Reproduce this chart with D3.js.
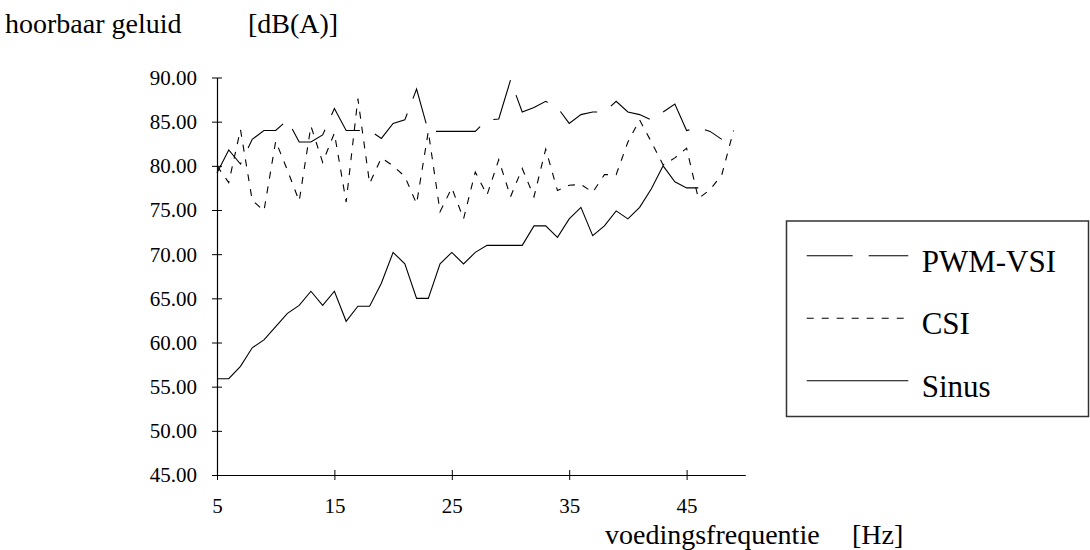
<!DOCTYPE html>
<html>
<head>
<meta charset="utf-8">
<script src="https://cdn.jsdelivr.net/npm/d3@7"></script>
<style>
  html, body { margin: 0; padding: 0; background: #fff; }
  svg { display: block; }
  svg text { font-family: "Liberation Serif", "Times New Roman", serif !important; fill: #000; }
</style>
</head>
<body>
<svg id="chart" width="1090" height="550"></svg>
<script>
// ---- data ----
const pwmFreq = [5,6,7,8,9,10,11,12,13,14,15,16,17,18,19,20,21,22,23,24,25,26,27,28,29,30,31,32,33,34,35,36,37,38,39,40,41,42,43,44,45,46,47,48];
const pwmValues = [79.2,81.8,80.2,83.0,84.0,84.0,85.2,82.7,82.7,83.5,86.5,84.0,84.0,84.0,83.1,84.8,85.2,88.7,83.9,83.9,83.9,83.9,83.9,85.2,85.3,89.7,86.1,86.6,87.3,86.6,84.8,85.8,86.1,86.1,87.3,86.1,85.8,85.2,86.1,87.0,84.0,84.3,83.9,83.0];
const csiFreq = [5,6,7,8,9,10,11,12,13,14,15,16,17,18,19,20,21,22,23,24,25,26,27,28,29,30,31,32,33,34,35,36,37,38,39,40,41,42,43,44,45,46,47,48,49];
const csiValues = [80.0,78.1,84.1,76.1,74.9,82.8,79.5,76.0,84.5,80.4,83.7,75.9,87.6,78.0,80.9,80.0,78.8,75.7,83.9,74.8,77.5,74.0,79.3,76.7,80.7,76.5,79.7,76.5,81.9,77.2,77.8,77.9,77.0,79.0,79.0,82.7,85.2,82.7,80.1,80.9,82.0,76.3,77.3,79.0,84.0];
const sinusFreq = [5,6,7,8,9,10,11,12,13,14,15,16,17,18,19,20,21,22,23,24,25,26,27,28,29,30,31,32,33,34,35,36,37,38,39,40,41,42,43,44,45,46];
const sinusValues = [55.9,55.9,57.3,59.4,60.3,61.8,63.3,64.2,65.8,64.2,65.8,62.4,64.1,64.1,66.7,70.2,68.9,65.0,65.0,68.9,70.2,68.9,70.2,71.0,71.0,71.0,71.0,73.2,73.2,71.9,74.0,75.3,72.1,73.2,74.9,74.0,75.3,77.4,80.0,78.2,77.5,77.5];
const yTicks = [45,50,55,60,65,70,75,80,85,90];
const xTicks = [5,15,25,35,45];
const seriesNames = ["PWM-VSI","CSI","Sinus"];
const yTitle = ["hoorbaar geluid", "[dB(A)]"];
const xTitle = ["voedingsfrequentie", "[Hz]"];

// ---- layout ----
const SERIF = "'Liberation Serif', 'Times New Roman', serif";
const svg = d3.select("#chart");
const x = d3.scaleLinear().domain([5, 50]).range([217, 745.3]);
const y = d3.scaleLinear().domain([45, 90]).range([475, 77.5]);

const dashes = { "PWM-VSI": "46,16", "CSI": "7,8", "Sinus": null };
const series = [
  { name: "PWM-VSI", f: pwmFreq, v: pwmValues },
  { name: "CSI", f: csiFreq, v: csiValues },
  { name: "Sinus", f: sinusFreq, v: sinusValues }
];

// y axis
const yAxis = d3.axisLeft(y).tickValues(yTicks).tickFormat(d3.format(".2f"))
  .tickSizeInner(5).tickSizeOuter(0).tickPadding(15);
const gy = svg.append("g").attr("transform", "translate(217,0)").call(yAxis)
  .attr("font-family", SERIF).attr("font-size", 21);
gy.select(".domain").attr("stroke", "#000").attr("stroke-width", 1.2);
gy.selectAll(".tick line").attr("x1", -5).attr("x2", 5).attr("stroke", "#000").attr("stroke-width", 1);
gy.selectAll(".tick text").attr("font-family", SERIF).attr("font-size", 21).attr("fill", "#000").attr("dy", "0.33em");

// x axis
const xAxis = d3.axisBottom(x).tickValues(xTicks).tickFormat(d3.format("d"))
  .tickSizeInner(5).tickSizeOuter(0);
const gx = svg.append("g").attr("transform", "translate(0,475)").call(xAxis)
  .attr("font-family", SERIF).attr("font-size", 21);
gx.select(".domain").attr("stroke", "#000").attr("stroke-width", 1.2);
gx.selectAll(".tick line").attr("y1", -5).attr("y2", 5).attr("stroke", "#000").attr("stroke-width", 1);
gx.selectAll(".tick text").attr("font-family", SERIF).attr("font-size", 21).attr("fill", "#000")
  .attr("y", 38).attr("dy", 0);

// lines
const line = d3.line().x(d => x(d[0])).y(d => y(d[1]));
series.forEach(s => {
  const pts = s.f.map((f, i) => [f, s.v[i]]);
  svg.append("path").datum(pts)
    .attr("d", line)
    .attr("fill", "none")
    .attr("stroke", "#000")
    .attr("stroke-width", 1.1)
    .attr("stroke-dasharray", dashes[s.name]);
});

// titles
svg.append("text").attr("x", 5).attr("y", 33).attr("font-size", 28).text(yTitle[0]);
svg.append("text").attr("x", 248).attr("y", 33).attr("font-size", 28).text(yTitle[1]);
svg.append("text").attr("x", 605).attr("y", 544).attr("font-size", 28).text(xTitle[0]);
svg.append("text").attr("x", 852).attr("y", 544).attr("font-size", 28).text(xTitle[1]);

// legend
const lg = svg.append("g");
lg.append("rect").attr("x", 786.5).attr("y", 221).attr("width", 302).attr("height", 195.5)
  .attr("fill", "#fff").attr("stroke", "#333").attr("stroke-width", 1.5);
const legY = [255.7, 318.3, 380.7];
seriesNames.forEach((n, i) => {
  lg.append("line").attr("x1", 806.7).attr("x2", 908.3).attr("y1", legY[i]).attr("y2", legY[i])
    .attr("stroke", "#000").attr("stroke-width", 1.1).attr("stroke-dasharray", dashes[n]);
  lg.append("text").attr("x", 921.7).attr("y", legY[i] + 16).attr("font-size", 31).text(n);
});
</script>
</body>
</html>
